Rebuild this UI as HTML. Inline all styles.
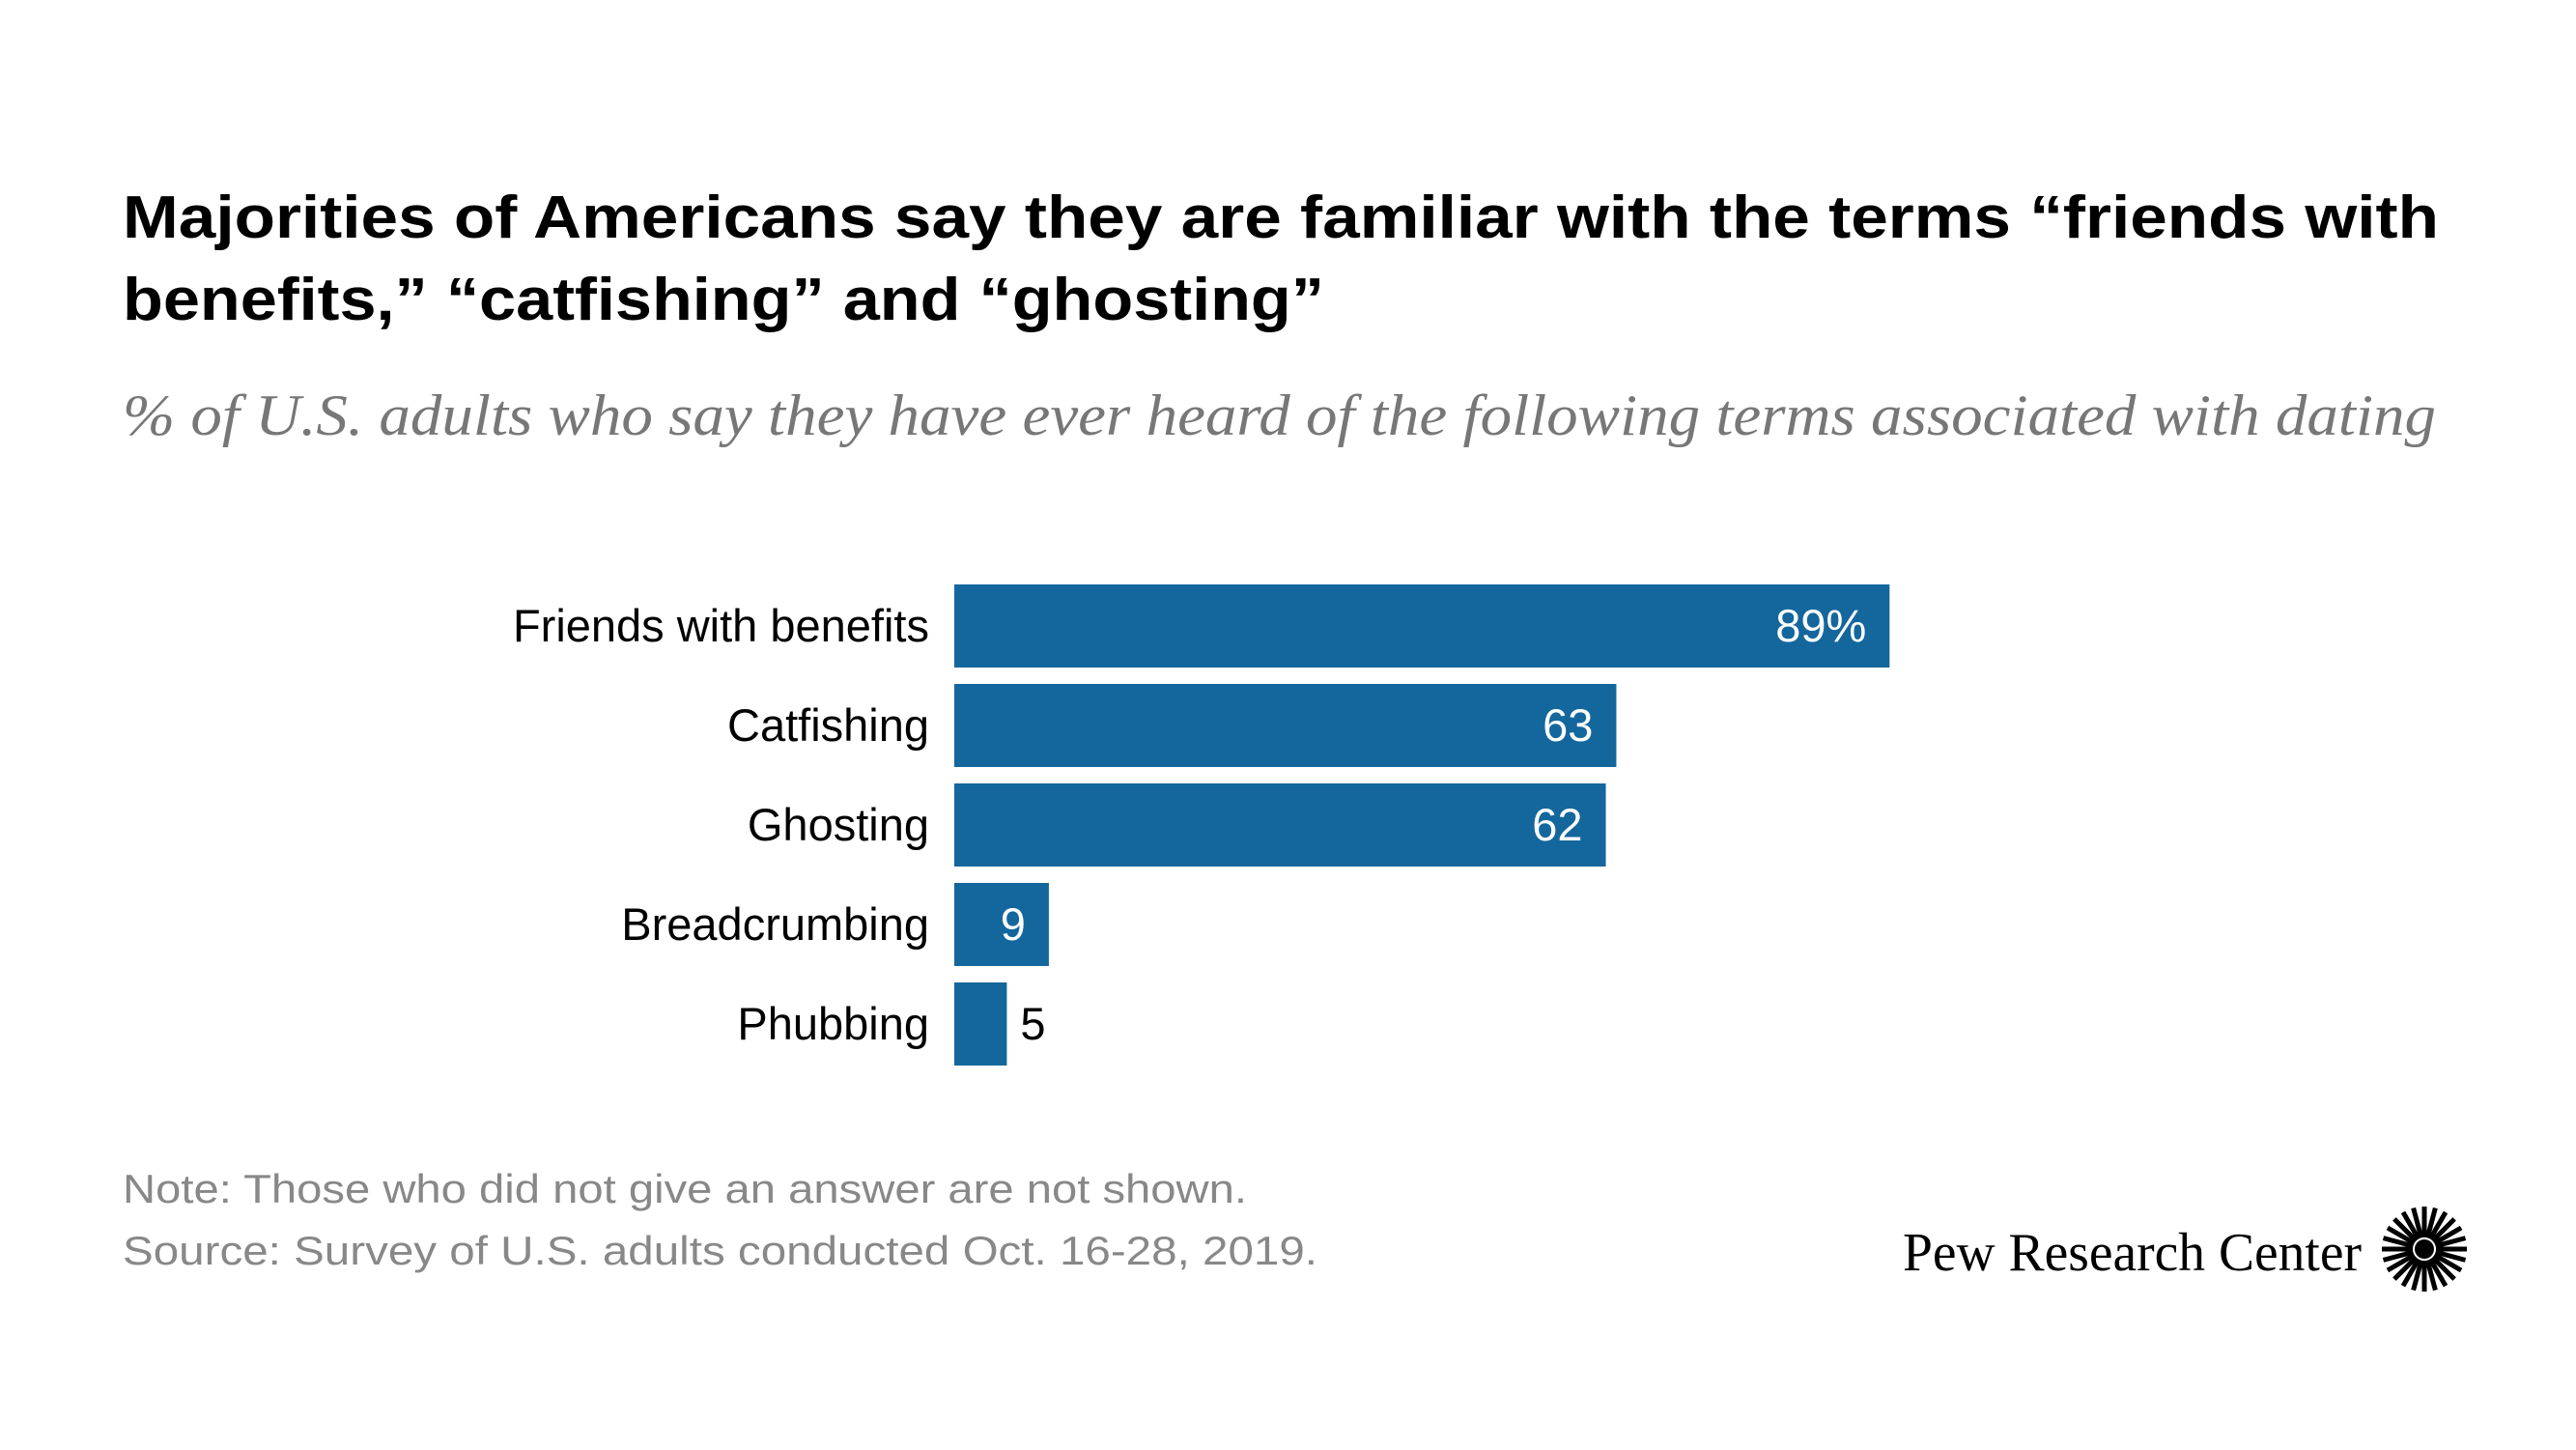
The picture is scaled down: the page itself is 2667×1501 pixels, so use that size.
<!DOCTYPE html>
<html><head><meta charset="utf-8">
<style>
html,body{margin:0;padding:0;background:#fff;}
body{width:2667px;height:1501px;position:relative;overflow:hidden;font-family:"Liberation Sans",sans-serif;}
.fit{position:absolute;white-space:nowrap;transform-origin:0 0;}
#title{font-weight:bold;font-size:62px;color:#000;}
#subtitle{font-family:"Liberation Serif",serif;font-style:italic;font-size:60px;color:#777;}
.foot{font-size:42px;color:#888;}
#chart{position:absolute;left:0;top:0;}
</style></head>
<body>
<div class="fit" id="title" data-w="2398" style="left:127px;top:190px;">Majorities of Americans say they are familiar with the terms “friends with</div>
<div class="fit" id="title2" data-w="1244" style="left:127px;top:275px;font-weight:bold;font-size:62px;">benefits,” “catfishing” and “ghosting”</div>
<div class="fit" id="subtitle" data-w="2395" style="left:127px;top:396px;">% of U.S. adults who say they have ever heard of the following terms associated with dating</div>
<svg id="chart" width="2667" height="1501"></svg>
<div class="fit foot" id="note" data-w="1164" style="left:127px;top:1207px;">Note: Those who did not give an answer are not shown.</div>
<div class="fit foot" id="source" data-w="1237" style="left:127px;top:1271px;">Source: Survey of U.S. adults conducted Oct. 16-28, 2019.</div>
<div class="fit" id="logo" data-w="475" style="left:1970px;top:1265px;font-family:'Liberation Serif',serif;font-size:56px;color:#000;">Pew Research Center</div>
<svg width="100" height="100" style="position:absolute;left:2460px;top:1243px">
<g id="burst" transform="translate(50,50)"></g>
</svg>
<script>
const categories=["Friends with benefits","Catfishing","Ghosting","Breadcrumbing","Phubbing"];
const values=[89,63,62,9,5];
const valueLabels=["89%","63","62","9","5"];
const NS="http://www.w3.org/2000/svg";
const svg=document.getElementById('chart');
const x0=988, pxPerUnit=10.88, top0=605, pitch=103, barH=86;
function xScale(v){return x0+v*pxPerUnit;}
function yScale(i){return top0+i*pitch;}
categories.forEach((c,i)=>{
  const y=yScale(i), w=xScale(values[i])-x0;
  const r=document.createElementNS(NS,'rect');
  r.setAttribute('x',x0);r.setAttribute('y',y);r.setAttribute('width',w);r.setAttribute('height',barH);r.setAttribute('fill','#14679c');
  
  
  svg.appendChild(r);
  const t=document.createElementNS(NS,'text');
  t.setAttribute('x',962);t.setAttribute('y',y+barH/2+16);t.setAttribute('text-anchor','end');
  t.setAttribute('font-size','47');t.setAttribute('font-family','Liberation Sans, sans-serif');t.setAttribute('fill','#000');
  t.textContent=c;
  
  
  svg.appendChild(t);
  const v=document.createElementNS(NS,'text');
  const inside=values[i]>=8;
  v.setAttribute('x',inside?xScale(values[i])-24:xScale(values[i])+14);
  v.setAttribute('y',y+barH/2+16);
  v.setAttribute('text-anchor',inside?'end':'start');
  v.setAttribute('font-size','47');v.setAttribute('font-family','Liberation Sans, sans-serif');
  v.setAttribute('fill',inside?'#fff':'#000');
  v.textContent=valueLabels[i];
  
  
  svg.appendChild(v);
});
document.querySelectorAll('.fit').forEach(el=>{
  const tw=+el.dataset.w;const w=el.getBoundingClientRect().width;
  el.style.transform='scaleX('+(tw/w)+')';
});
const g=document.getElementById('burst');
for(let k=0;k<24;k++){
  const a=k*15*Math.PI/180;
  const l=document.createElementNS(NS,'line');
  l.setAttribute('x1',Math.cos(a)*12);l.setAttribute('y1',Math.sin(a)*12);
  l.setAttribute('x2',Math.cos(a)*44);l.setAttribute('y2',Math.sin(a)*44);
  l.setAttribute('stroke','#000');l.setAttribute('stroke-width','5');
  g.appendChild(l);
}
const cc=document.createElementNS(NS,'circle');cc.setAttribute('r','10');cc.setAttribute('fill','#000');g.appendChild(cc);
</script>
</body></html>
